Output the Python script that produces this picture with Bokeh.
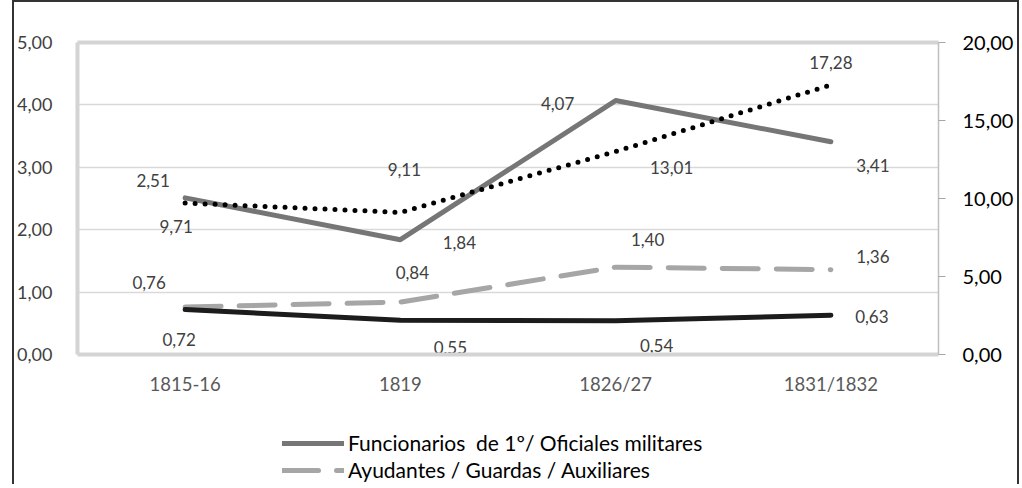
from bokeh.plotting import figure
from bokeh.layouts import column
from bokeh.models import (FactorRange, Range1d, LinearAxis, CategoricalAxis, FixedTicker,
                          CustomJSTickFormatter, Legend, LegendItem, ColumnDataSource)
from bokeh.core.properties import value
from bokeh.embed import file_html
from bokeh.resources import INLINE

# ---- data ----
categories = ["1815-16", "1819", "1826/27", "1831/1832"]
funcionarios = [2.51, 1.84, 4.07, 3.41]          # left axis, gray solid
ayudantes = [0.76, 0.84, 1.40, 1.36]             # left axis, gray dashed
serie_negra = [0.72, 0.55, 0.54, 0.63]           # left axis, black solid
serie_punteada = [9.71, 9.11, 13.01, 17.28]      # right axis, black dotted
legend_labels = ["Funcionarios  de 1º/ Oficiales militares",
                 "Ayudantes / Guardas / Auxiliares"]
left_ticks = [0, 1, 2, 3, 4, 5]
right_ticks = [0, 5, 10, 15, 20]

FONT = "Lato"
W = 1003

STY_FUNC = dict(line_color="#767676", line_width=5, line_join="round", line_cap="round")
STY_AYU = dict(line_color="#a6a6a6", line_width=5, line_dash="36 18", line_cap="round")
STY_NEG = dict(line_color="#1c1c1c", line_width=5, line_join="round", line_cap="round")
STY_PUN = dict(line_color="#000000", line_width=5, line_dash="0 10", line_cap="round")

def fmt(v):
    return f"{v:.2f}".replace(".", ",")

p = figure(width=W, height=401, x_range=FactorRange(*categories),
           y_range=Range1d(0, 5), output_backend="svg", toolbar_location=None,
           min_border_left=60, min_border_right=79, min_border_top=40,
           min_border_bottom=49)
p.outline_line_color = None
p.background_fill_color = "white"
p.border_fill_color = "white"
p.x_range.range_padding = 0
p.extra_y_ranges = {"right": Range1d(0, 20)}

jsfmt = "return tick.toFixed(2).replace('.', ',');"

# left axis
yax = p.yaxis[0]
yax.ticker = FixedTicker(ticks=left_ticks)
yax.formatter = CustomJSTickFormatter(code=jsfmt)
yax.axis_line_color = "#d4d4d4"
yax.axis_line_width = 4
yax.major_tick_line_color = None
yax.minor_tick_line_color = None
yax.major_label_standoff = 19
yax.major_label_text_font = FONT
yax.major_label_text_font_size = "18px"
yax.major_label_text_color = "#404040"

# bottom axis
xax = p.xaxis[0]
xax.axis_line_color = "#d4d4d4"
xax.axis_line_width = 4
xax.major_tick_line_color = None
xax.major_label_standoff = 12
xax.major_label_text_font = FONT
xax.major_label_text_font_size = "18.5px"
xax.major_label_text_color = "#595959"

# top line
top = CategoricalAxis(axis_line_color="#d4d4d4", axis_line_width=4,
                      major_tick_line_color=None, major_label_text_font_size="0px",
                      major_label_text_color=None)
p.add_layout(top, "above")

# right axis
rax = LinearAxis(y_range_name="right", ticker=FixedTicker(ticks=right_ticks),
                 formatter=CustomJSTickFormatter(code=jsfmt))
rax.axis_line_color = "#bfbfbf"
rax.axis_line_width = 1.5
rax.major_tick_line_color = "#a6a6a6"
rax.major_tick_out = 7
rax.major_tick_in = 0
rax.minor_tick_line_color = None
rax.major_label_standoff = 17
rax.major_label_text_font = FONT
rax.major_label_text_font_size = "20px"
rax.major_label_text_color = "#000000"
p.add_layout(rax, "right")

p.xgrid.grid_line_color = None
p.ygrid.ticker = FixedTicker(ticks=[1, 2, 3, 4])
p.ygrid.grid_line_color = "#d9d9d9"
p.ygrid.grid_line_width = 1.5

# lines
p.line(categories, funcionarios, **STY_FUNC)
p.line(categories, ayudantes, **STY_AYU)
p.line(categories, serie_negra, **STY_NEG)
p.line(categories, serie_punteada, y_range_name="right", **STY_PUN)

# data labels (offsets in screen pixels)
def labels(vals, dx, dy, rng=None):
    src = ColumnDataSource(dict(x=categories, y=vals, t=[fmt(v) for v in vals],
                                dx=dx, dy=dy))
    kw = dict(x="x", y="y", text="t", x_offset="dx", y_offset="dy", source=src,
              text_font=value(FONT), text_font_size="17px", text_color="#404040",
              text_align="center", text_baseline="middle")
    if rng:
        kw["y_range_name"] = rng
    p.text(**kw)

labels(funcionarios, [-32, 59, -58, 42], [-17, 3, 3, 24])
labels(serie_punteada, [-9, 4, 56, 0], [23, -43, 16, -22], "right")
labels(ayudantes, [-36, 12, 32, 42], [-25, -30, -28, -13])
labels(serie_negra, [-6, 50, 41, 41], [30, 27, 25, 1])

# legend panel (second figure, same line styles; sample lines lie outside its view)
lg = figure(width=W, height=81, x_range=Range1d(0, 1), y_range=Range1d(0, 1),
            output_backend="svg", toolbar_location=None, x_axis_type=None,
            y_axis_type=None, min_border=0)
lg.outline_line_color = None
lg.grid.visible = False
l1 = lg.line(x=[5, 6], y=[5, 5], **STY_FUNC)
l2 = lg.line(x=[5, 6], y=[5, 5], **STY_AYU)
legend = Legend(items=[LegendItem(label=legend_labels[0], renderers=[l1]),
                       LegendItem(label=legend_labels[1], renderers=[l2])],
                location=(205, 2))
legend.label_text_font = FONT
legend.label_text_font_size = "21px"
legend.label_text_color = "#000000"
legend.glyph_width = 62
legend.glyph_height = 20
legend.label_height = 20
legend.label_standoff = 4
legend.spacing = 2
legend.padding = 0
legend.margin = 0
legend.border_line_color = None
legend.background_fill_alpha = 0
lg.add_layout(legend)

layout = column(p, lg, spacing=0)
layout.styles = {"border-left": "2px solid #333333", "border-top": "2px solid #333333",
                 "border-right": "2px solid #333333", "margin-left": "12px"}

open("out.html", "w").write(file_html(layout, INLINE))
